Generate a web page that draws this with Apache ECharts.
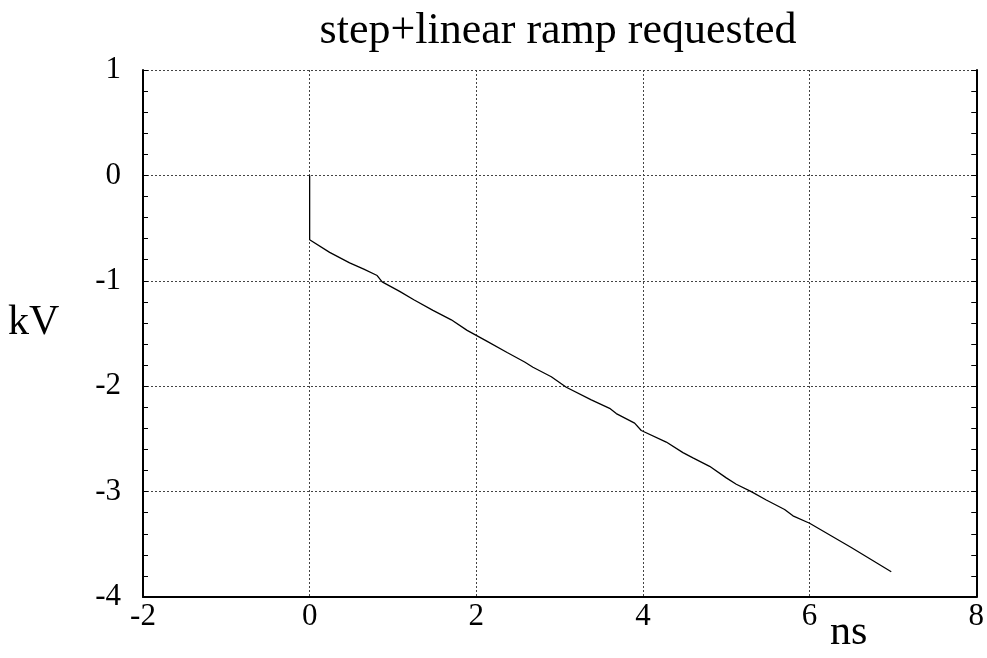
<!DOCTYPE html>
<html>
<head>
<meta charset="utf-8">
<script src="https://cdn.jsdelivr.net/npm/echarts@6/dist/echarts.min.js"></script>
<style>html,body{margin:0;padding:0;background:#fff}#c{width:987px;height:658px}</style>
</head>
<body>
<div id="c"></div>
<script>
const titleText = 'step+linear ramp requested';
const xName = 'ns';
const yName = 'kV';
const timeNs = [0, 0, 0.24, 0.48, 0.65, 0.81, 0.87, 1.08, 1.25, 1.48, 1.70, 1.89, 2.12, 2.37, 2.58, 2.68, 2.90, 3.08, 3.38, 3.60, 3.68, 3.90, 3.98, 4.28, 4.48, 4.60, 4.80, 5.00, 5.12, 5.30, 5.48, 5.70, 5.80, 6.00, 6.50, 6.98];
const voltKV = [0, -0.61, -0.73, -0.83, -0.89, -0.95, -1.01, -1.10, -1.18, -1.28, -1.37, -1.47, -1.57, -1.68, -1.77, -1.82, -1.91, -2.01, -2.13, -2.21, -2.26, -2.35, -2.42, -2.53, -2.63, -2.68, -2.76, -2.87, -2.93, -3.00, -3.08, -3.17, -3.23, -3.30, -3.53, -3.76];

const font = 'Liberation Serif';
const chart = echarts.init(document.getElementById('c'));
const gridDash = {show: true, lineStyle: {color: '#444', type: [2, 2], width: 1}};
chart.setOption({
  animation: false,
  title: {text: titleText, left: 553, textAlign: 'center', top: 4,
    textStyle: {fontFamily: font, fontSize: 44, fontWeight: 'normal', color: '#000'}},
  grid: {left: 143, right: 10, top: 70, bottom: 61},
  graphic: [
    {type: 'text', left: 8, top: 302, style: {text: yName, font: '42px "Liberation Serif"', fill: '#000'}},
    {type: 'text', left: 830, top: 612, style: {text: xName, font: '42px "Liberation Serif"', fill: '#000'}}
  ],
  xAxis: {type: 'value', min: -2, max: 8, interval: 2,
    axisLine: {show: true, onZero: false, lineStyle: {color: '#000', width: 2}},
    axisTick: {show: false},
    axisLabel: {fontFamily: font, fontSize: 31, color: '#000', margin: 4},
    splitLine: gridDash},
  yAxis: [
    {type: 'value', min: -4, max: 1, interval: 1,
      axisLine: {show: true, onZero: false, lineStyle: {color: '#000', width: 2}},
      axisTick: {show: true, inside: true, length: 5, lineStyle: {color: '#000'}},
      minorTick: {show: true, splitNumber: 5, length: 5, lineStyle: {color: '#000'}},
      axisLabel: {fontFamily: font, fontSize: 31, color: '#000', margin: 22},
      splitLine: gridDash},
    {type: 'value', min: -4, max: 1, interval: 1, position: 'right',
      axisLine: {show: true, onZero: false, lineStyle: {color: '#000', width: 2}},
      axisTick: {show: true, inside: true, length: 5, lineStyle: {color: '#000'}},
      minorTick: {show: true, splitNumber: 5, length: 5, lineStyle: {color: '#000'}},
      axisLabel: {show: false},
      splitLine: {show: false}}
  ],
  series: [{
    type: 'line', yAxisIndex: 0, showSymbol: false, symbol: 'none',
    lineStyle: {color: '#000', width: 1.3},
    data: timeNs.map((t, i) => [t, voltKV[i]])
  }]
});
</script>
</body>
</html>
